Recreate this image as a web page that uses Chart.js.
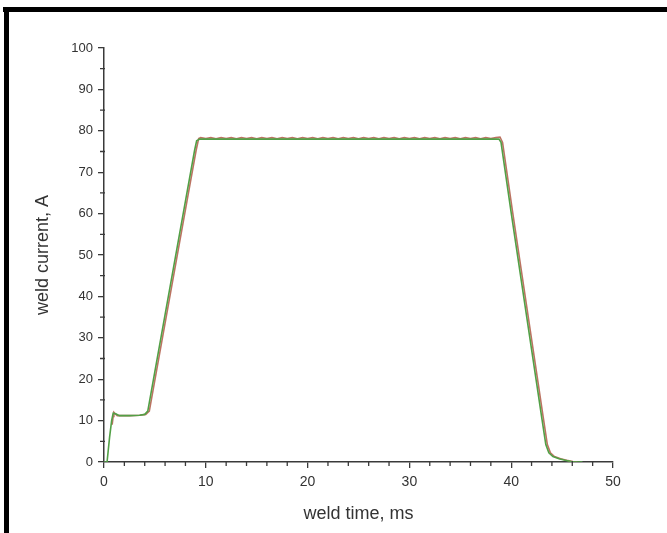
<!DOCTYPE html>
<html>
<head>
<meta charset="utf-8">
<script src="https://cdn.jsdelivr.net/npm/chart.js@4/dist/chart.umd.min.js"></script>
<style>
  body { margin: 0; background: #fff; }
  #wrap { position: relative; width: 667px; height: 533px; }
  .bar { position: absolute; background: #000; }
</style>
</head>
<body>
<div id="wrap">
  <canvas id="chart" width="667" height="533"></canvas>
  <div class="bar" style="left:3px;top:7px;width:664px;height:5px"></div>
  <div class="bar" style="left:4px;top:7px;width:5px;height:526px"></div>
</div>
<script>
// weld current vs time, two traces (green = measured, red = model)
const greenTime = [0, 0.3, 0.55, 0.75, 0.9, 1.2, 1.5, 2.5, 3.5, 4.0, 4.3, 5, 6, 7, 8, 8.9, 9.1, 9.4,
  12, 15, 18, 21, 24, 27, 30, 33, 36, 38.8, 39.0, 40, 41, 42, 42.5, 43, 43.4, 43.7, 44.1, 44.7, 45.3, 45.9, 46.3, 47];
const greenCurrent = [0, 0, 6, 10, 11.8, 11.6, 11.2, 11.2, 11.3, 11.5, 12.3, 21.9, 35.6, 49.3, 63, 75.3, 77.6, 78.0,
  78.0, 78.0, 78.0, 78.0, 78.0, 78.0, 78.0, 78.0, 78.0, 78.0, 77.2, 60.2, 43.7, 27.2, 19, 10.7, 4.2, 2.2, 1.3, 0.8, 0.4, 0.1, 0, 0];

const redTime = [0.8, 0.9, 0.97, 1.3, 2.5, 3.5, 4.1, 4.45, 5.15, 6.15, 7.15, 8.15, 9.05, 9.3,
  9.5, 10, 10.5, 11, 11.5, 12, 12.5, 13, 13.5, 14, 14.5, 15, 15.5, 16, 16.5, 17, 17.5, 18, 18.5, 19, 19.5,
  20, 20.5, 21, 21.5, 22, 22.5, 23, 23.5, 24, 24.5, 25, 25.5, 26, 26.5, 27, 27.5, 28, 28.5, 29, 29.5,
  30, 30.5, 31, 31.5, 32, 32.5, 33, 33.5, 34, 34.5, 35, 35.5, 36, 36.5, 37, 37.5, 38, 38.5, 38.9,
  39.15, 40.15, 41.15, 42.15, 42.65, 43.15, 43.55, 43.85, 44.25, 44.85, 45.45, 46.05, 46.5];
const redCurrent = [9, 11, 12, 11.2, 11.2, 11.3, 11.5, 12.3, 21.9, 35.6, 49.3, 63, 75.3, 78.1,
  78.35, 78.15, 78.35, 78.1, 78.35, 78.15, 78.35, 78.1, 78.35, 78.15, 78.35, 78.1, 78.35, 78.15, 78.35, 78.1, 78.35, 78.15, 78.35, 78.1, 78.35,
  78.15, 78.35, 78.1, 78.35, 78.15, 78.35, 78.1, 78.35, 78.15, 78.35, 78.1, 78.35, 78.15, 78.35, 78.1, 78.35, 78.15, 78.35, 78.1, 78.35,
  78.15, 78.35, 78.1, 78.35, 78.15, 78.35, 78.1, 78.35, 78.15, 78.35, 78.1, 78.35, 78.15, 78.35, 78.1, 78.35, 78.15, 78.35, 78.5,
  77.2, 60.2, 43.7, 27.2, 19, 10.7, 4.2, 2.2, 1.3, 0.8, 0.4, 0.1, 0];

const xTicks = [0, 10, 20, 30, 40, 50];
const yTicks = [0, 10, 20, 30, 40, 50, 60, 70, 80, 90, 100];
const xMinor = [2, 4, 6, 8, 12, 14, 16, 18, 22, 24, 26, 28, 32, 34, 36, 38, 42, 44, 46, 48];
const yMinor = [5, 15, 25, 35, 45, 55, 65, 75, 85, 95];

const axisColor = '#3a3a3a';
const textColor = '#333';

function toPoints(xs, ys) {
    return xs.map((x, i) => ({x: x, y: ys[i]}));
}

// small ticks between the labelled ones
const minorTicks = {
    id: 'minorTicks',
    afterDraw(chart) {
        const ctx = chart.ctx;
        const xs = chart.scales.x, ys = chart.scales.y;
        ctx.save();
        ctx.strokeStyle = axisColor;
        ctx.lineWidth = 1.3;
        ctx.beginPath();
        xMinor.forEach(v => {
            const px = xs.getPixelForValue(v);
            ctx.moveTo(px, ys.bottom - 1);
            ctx.lineTo(px, ys.bottom + 4);
        });
        yMinor.forEach(v => {
            const py = ys.getPixelForValue(v);
            ctx.moveTo(xs.left - 4, py);
            ctx.lineTo(xs.left + 1, py);
        });
        ctx.stroke();
        ctx.restore();
    }
};

const ctx = document.getElementById('chart').getContext('2d');
new Chart(ctx, {
    type: 'line',
    data: {
        datasets: [{
            label: 'green',
            data: toPoints(greenTime, greenCurrent),
            borderColor: '#52a046',
            borderWidth: 1.6,
            pointRadius: 0,
            tension: 0
        }, {
            label: 'red',
            data: toPoints(redTime, redCurrent),
            borderColor: 'rgba(175,90,70,0.85)',
            borderWidth: 1.6,
            pointRadius: 0,
            tension: 0
        }]
    },
    options: {
        responsive: false,
        animation: false,
        layout: { padding: { left: 0, right: 54, top: 48, bottom: 0 } },
        plugins: { legend: { display: false }, tooltip: { enabled: false } },
        scales: {
            x: {
                type: 'linear',
                min: 0, max: 50,
                afterFit: s => { s.height = 71; },
                afterBuildTicks: s => { s.ticks = xTicks.map(v => ({value: v})); },
                grid: { drawOnChartArea: false, tickLength: 6, color: axisColor, lineWidth: 1.3 },
                border: { display: true, color: axisColor, width: 1.5 },
                ticks: { padding: 6, color: textColor, font: { family: 'Liberation Sans', size: 14 } },
                title: { display: true, text: 'weld time, ms', color: textColor,
                    font: { family: 'Liberation Sans', size: 18 }, padding: { top: 0, bottom: 8 } }
            },
            y: {
                min: 0, max: 100,
                afterFit: s => { s.width = 104; },
                afterBuildTicks: s => { s.ticks = yTicks.map(v => ({value: v})); },
                grid: { drawOnChartArea: false, tickLength: 6, color: axisColor, lineWidth: 1.3 },
                border: { display: true, color: axisColor, width: 1.5 },
                ticks: { padding: 5, color: textColor, font: { family: 'Liberation Sans', size: 13 } },
                title: { display: true, text: 'weld current, A', color: textColor,
                    font: { family: 'Liberation Sans', size: 18 }, padding: { top: 32, bottom: 0 } }
            }
        }
    },
    plugins: [minorTicks]
});
</script>
</body>
</html>
